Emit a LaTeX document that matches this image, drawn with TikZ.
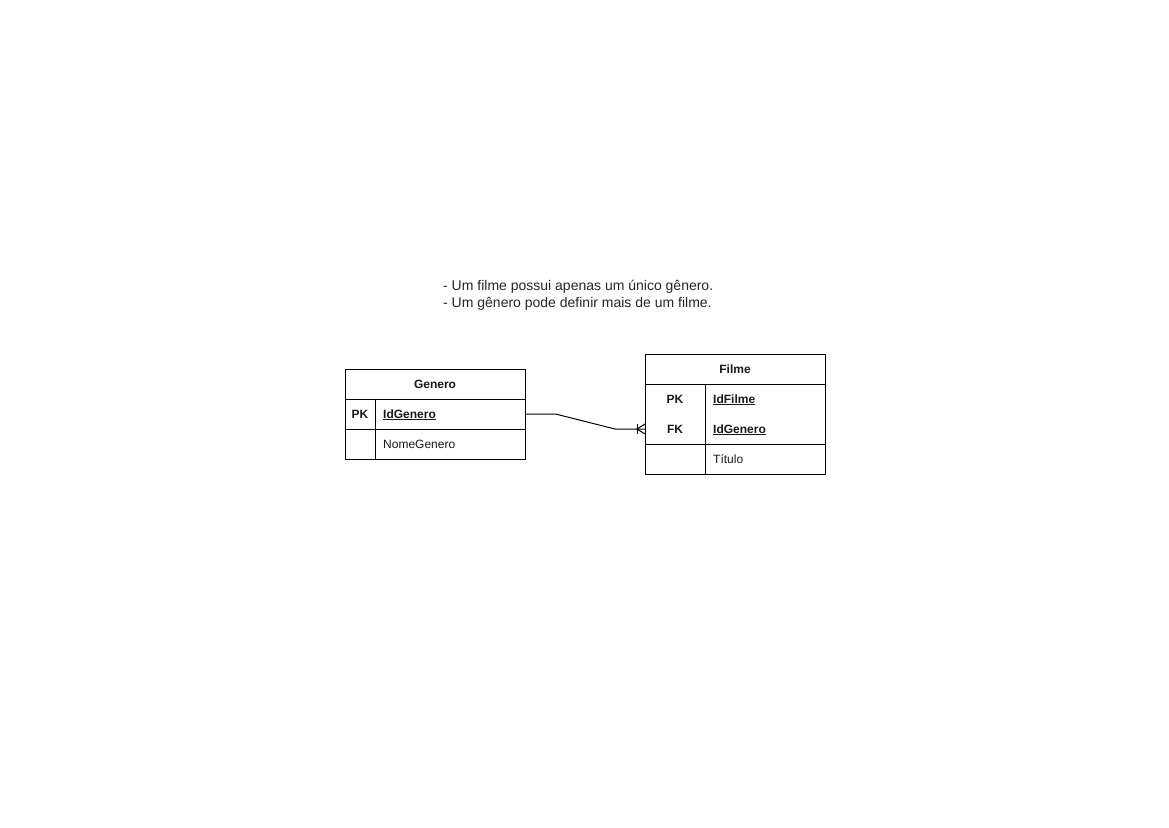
\documentclass[tikz,border=0pt]{standalone}
\usepackage{fontspec}
\setmainfont{Liberation Sans}
\usetikzlibrary{calc}
\begin{document}
\begin{tikzpicture}[x=1pt,y=-1pt,
  cell/.style={draw=black,line width=1pt,rectangle,inner sep=0pt,minimum width=180pt,minimum height=30pt,anchor=center},
  txt/.style={inner sep=0pt,text height=10.6pt,text depth=2.4pt,font=\fontsize{12pt}{14pt}\selectfont,text=black!90},
  bx/.style={txt,font=\fontsize{12pt}{14pt}\selectfont\bfseries},
  note/.style={inner sep=0pt,anchor=north west,align=left,font=\fontsize{14pt}{17pt}\selectfont,text=black!85},
  conn/.style={draw=black,line width=1pt}]
\useasboundingbox (0,0) rectangle (1169,827);
\fill[white] (0,0) rectangle (1169,827);
% note
\node[note] (nt) at (443,279.5) {- Um filme possui apenas um único gênero.\\- Um gênero pode definir mais de um filme.};
% Genero table
\node[cell] (gt) at (435,384) {};
\node[cell] (g1) at (435,414) {};
\node[cell] (g2) at (435,444) {};
\draw[line width=1pt] (375,399) -- (375,459);
\node[bx] (gtl) at (435,384) {Genero};
\node[bx] (gpk) at (360,414) {PK};
\node[bx,anchor=west] (gid) at (383,414) {\underline{IdGenero}};
\node[txt,anchor=west] (gnm) at (383,444) {NomeGenero};
% Filme table
\node[cell] (ft) at (735,369) {};
\node[cell,minimum height=60pt] (fk) at (735,414) {};
\node[cell] (f2) at (735,459) {};
\draw[line width=1pt] (705,384) -- (705,474);
\node[bx] (ftl) at (735,369) {Filme};
\node[bx] (fpk) at (675,399) {PK};
\node[bx] (ffk) at (675,429) {FK};
\node[bx,anchor=west] (fid) at (713,399) {\underline{IdFilme}};
\node[bx,anchor=west] (fgid) at (713,429) {\underline{IdGenero}};
\node[txt,anchor=west] (ftit) at (713,459) {Título};
% connector
\coordinate (fkin) at (645,429);
\draw[conn] (g1.east) -- ++(30,0) -- (615,429) -- (fkin);
\draw[conn] (637,424) -- (637,434);
\draw[conn] ($(fkin)+(0,-5)$) -- (637,429) -- ($(fkin)+(0,5)$);
\end{tikzpicture}
\end{document}
